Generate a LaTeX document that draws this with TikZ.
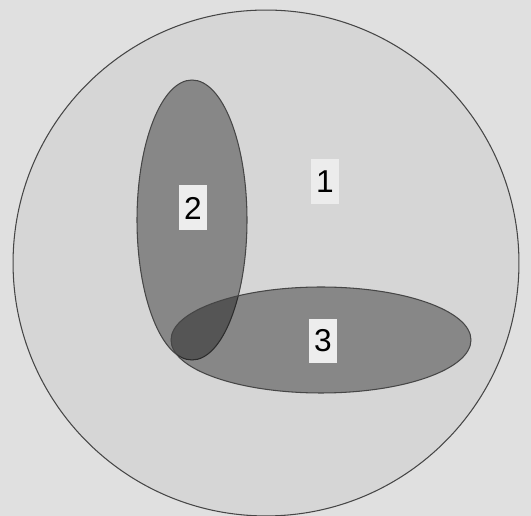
\documentclass[tikz,border=0pt]{standalone}
\usepackage{fontspec}
\setmainfont{Liberation Sans}
\usepackage{tikz}
\usetikzlibrary{shapes.geometric, positioning}

\definecolor{paper}{RGB}{224,224,224}
\definecolor{disc}{RGB}{214,214,214}
\definecolor{rim}{RGB}{70,70,70}

\begin{document}
\begin{tikzpicture}[
  x=0.02cm, y=-0.02cm,
  region/.style={draw=rim, line width=0.6pt, inner sep=0pt},
  zone/.style={region, ellipse, fill=black, fill opacity=0.37},
  tag/.style={rectangle, fill=white, fill opacity=0.85, text opacity=1, inner sep=0pt, minimum width=0.56cm, minimum height=0.9cm, font=\fontsize{18}{20}\selectfont}
]

% background
\fill[paper] (0,0) rectangle (531,516);
\useasboundingbox (0,0) rectangle (531,516);

% outer set
\node[region, circle, fill=disc, minimum size=10.12cm] (whole) at (266,263) {};

% inner sets
\node[zone, minimum width=2.2cm, minimum height=5.6cm] (left) at (192,220) {};
\node[zone, minimum width=6.0cm, minimum height=2.12cm] (low) at (321,340) {};

% labels
\node[tag, fill opacity=0.55] (one) at (325,182) {1};
\node[tag] (two) at (193,208) {2};
\node[tag] (three) at (323,341) {3};

\end{tikzpicture}
\end{document}
